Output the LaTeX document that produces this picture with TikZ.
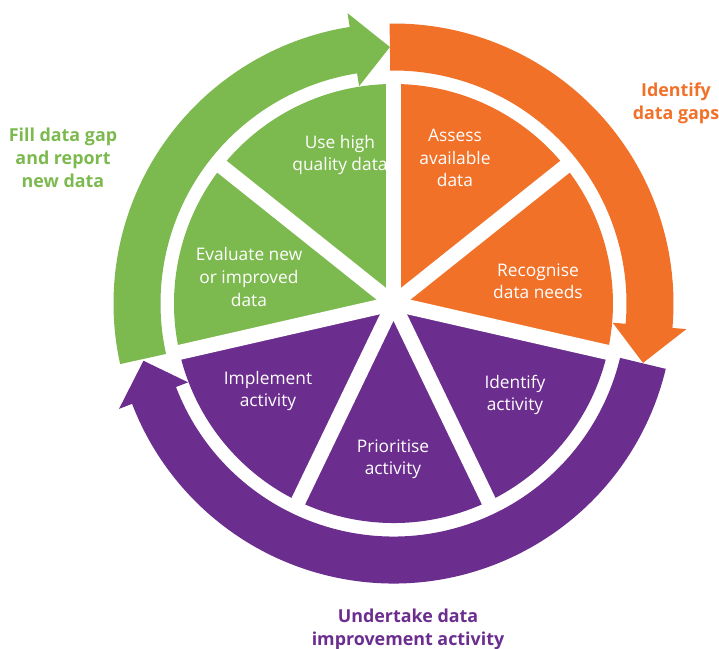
\documentclass[tikz,border=0pt]{standalone}
\usepackage{fontspec}
\setmainfont{Open Sans}
\usepackage{tikz}

\definecolor{fillgreen}{HTML}{7CB94E}
\definecolor{gaporange}{HTML}{F17129}
\definecolor{actpurple}{HTML}{6B2D8E}

\begin{document}
\begin{tikzpicture}[x=0.75pt, y=0.75pt,
	slice/.style={text=white, align=center, inner sep=0pt, font=\fontsize{13}{16.9}\selectfont},
	phase/.style={align=center, inner sep=0pt, font=\bfseries\fontsize{13.4}{17.2}\selectfont},
	gap/.style={white, line width=11.25pt}]
	\useasboundingbox (-393.5,-345.5) rectangle (325.5,303.5);

	%Sektorene tegnes her
	\fill[gaporange] (0,0) -- (90:219.5) arc[start angle=90, end angle=-12.86, radius=219.5] -- cycle;
	\fill[actpurple] (0,0) -- (-12.86:219.5) arc[start angle=-12.86, end angle=-167.14, radius=219.5] -- cycle;
	\fill[fillgreen] (0,0) -- (192.86:219.5) arc[start angle=192.86, end angle=90, radius=219.5] -- cycle;

	%Hvite kiler mellom sektorene
	\draw[gap] (0,0) -- (90:226);
	\draw[gap] (0,0) -- (38.57:226);
	\draw[gap] (0,0) -- (-12.86:226);
	\draw[gap] (0,0) -- (-64.29:226);
	\draw[gap] (0,0) -- (-115.71:226);
	\draw[gap] (0,0) -- (-167.14:226);
	\draw[gap] (0,0) -- (141.43:226);

	%Pilene rundt
	\fill[gaporange] (90.8:280) arc[start angle=90.8, end angle=-5, radius=280]
		-- (-5:294) -- (-13.4:256.5) -- (-5:220) -- (-5:233)
		arc[start angle=-5, end angle=90.8, radius=233] -- cycle;
	\fill[actpurple] (-13.5:280) arc[start angle=-13.5, end angle=-159, radius=280]
		-- (-159:294) -- (-167.1:256.5) -- (-159:220) -- (-159:233)
		arc[start angle=-159, end angle=-13.5, radius=233] -- cycle;
	\fill[fillgreen] (192.5:280) arc[start angle=192.5, end angle=99, radius=280]
		-- (99:294) -- (90.8:256.5) -- (99:220) -- (99:233)
		arc[start angle=99, end angle=192.5, radius=233] -- cycle;

	%Tekst i sektorene
	\node[slice] (usehigh) at (-53.5,148.5) {Use high\\quality data};
	\node[slice] (assess) at (61.5,145.5) {Assess\\available\\data};
	\node[slice] (recognise) at (144.5,22.5) {Recognise\\data needs};
	\node[slice] (identifyact) at (121.5,-91.5) {Identify\\activity};
	\node[slice] (prioritise) at (-0.5,-155.5) {Prioritise\\activity};
	\node[slice] (implement) at (-125.5,-87.5) {Implement\\activity};
	\node[slice] (evaluate) at (-144.5,26.5) {Evaluate new\\or improved\\data};

	%Fasene
	\node[phase, text=fillgreen] (fillgap) at (-330.5,145.5) {Fill data gap\\and report\\new data};
	\node[phase, text=gaporange] (identifygaps) at (282.5,200.5) {Identify\\data gaps};
	\node[phase, text=actpurple] (undertake) at (14.5,-326) {Undertake data\\improvement activity};
\end{tikzpicture}
\end{document}
